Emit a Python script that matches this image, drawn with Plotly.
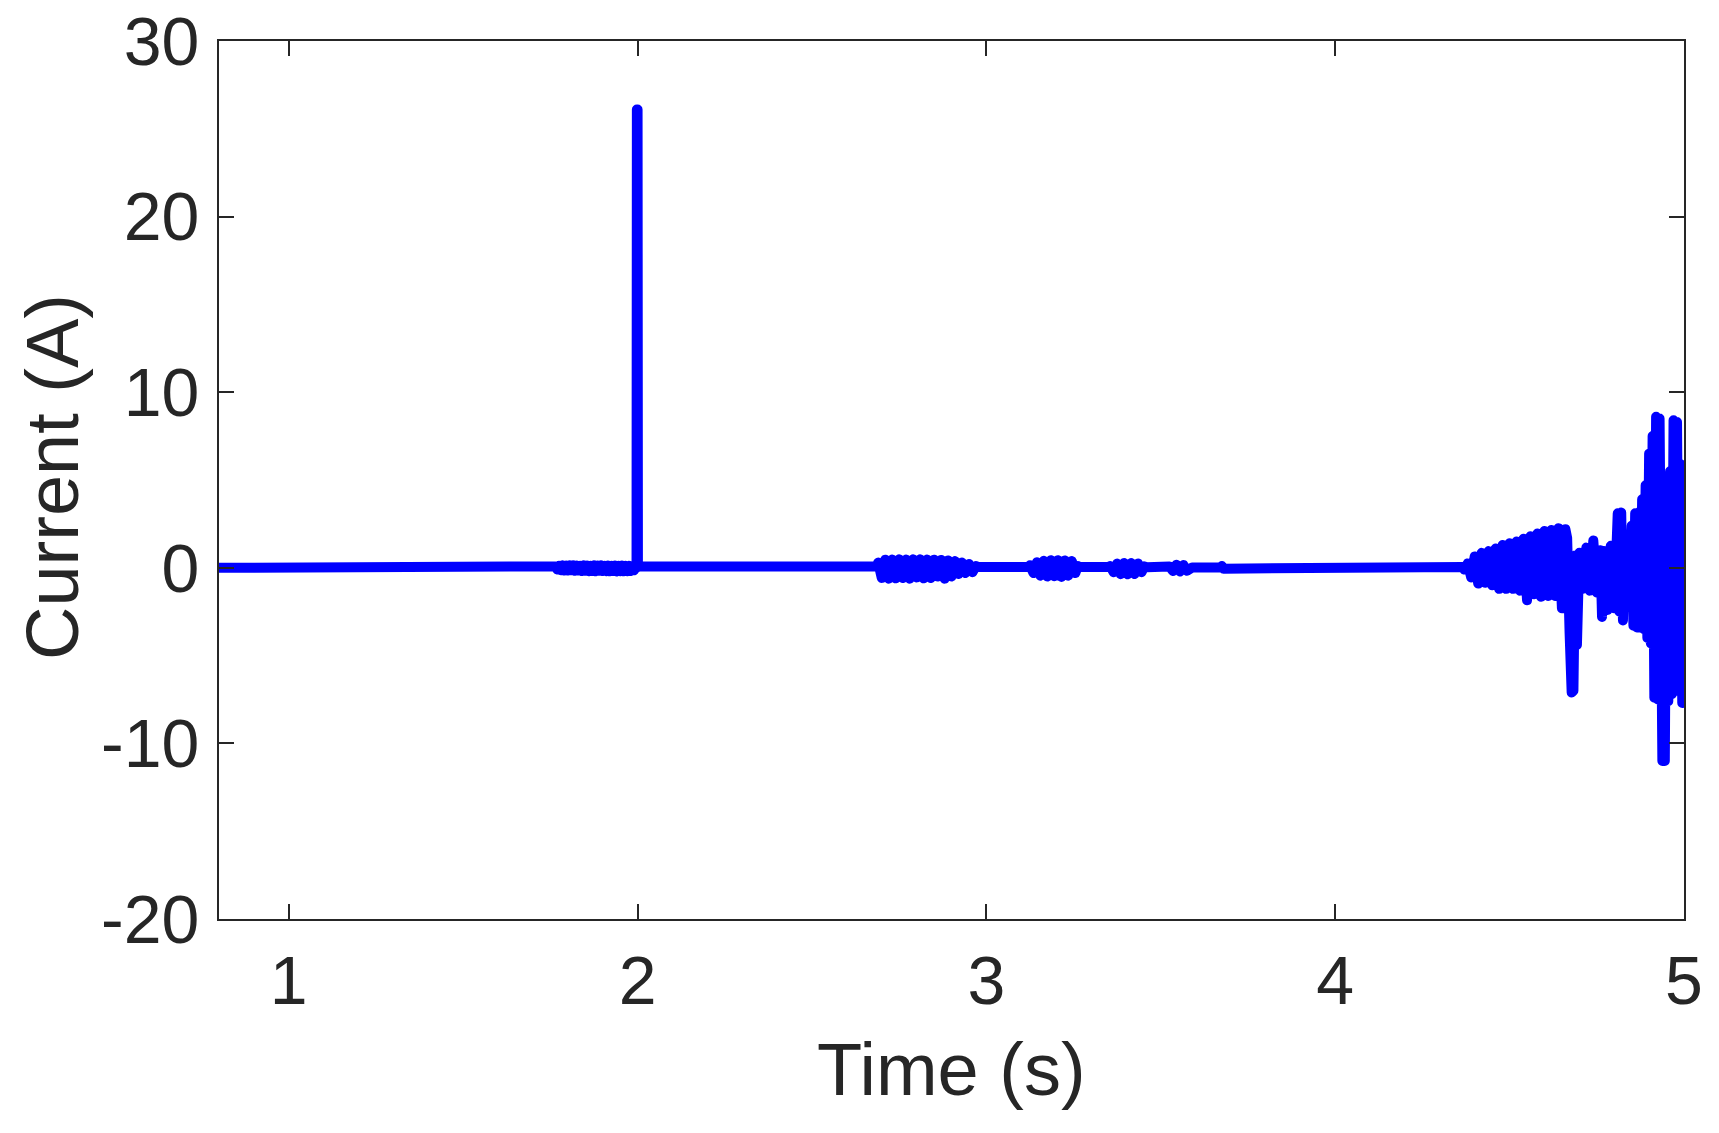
import plotly.graph_objects as go

# ---- data (time in s, current in A) ----
# quiet baseline before the spike
t_base1 = [0.80, 1.76]
i_base1 = [0.0, 0.0]

# small ripple just before t = 2 s
t_ripple = [1.765, 1.770, 1.775, 1.780, 1.785, 1.790, 1.795, 1.800, 1.805, 1.810,
            1.815, 1.820, 1.825, 1.830, 1.835, 1.840, 1.845, 1.850, 1.855, 1.860,
            1.865, 1.870, 1.875, 1.880, 1.885, 1.890, 1.895, 1.900, 1.905, 1.910,
            1.915, 1.920, 1.925, 1.930, 1.935, 1.940, 1.945, 1.950, 1.955, 1.960,
            1.965, 1.970, 1.975, 1.980, 1.985, 1.990, 1.994]
i_ripple = [0.08, -0.10, 0.12, -0.14, 0.14, -0.15, 0.13, -0.16, 0.14, -0.14,
            0.15, -0.17, 0.13, -0.16, 0.12, -0.18, 0.14, -0.17, 0.13, -0.19,
            0.12, -0.18, 0.14, -0.20, 0.13, -0.17, 0.14, -0.18, 0.12, -0.19,
            0.13, -0.20, 0.12, -0.18, 0.13, -0.21, 0.12, -0.19, 0.13, -0.20,
            0.12, -0.19, 0.11, -0.18, 0.10, -0.14, 0.05]

# inrush spike at t = 2 s
t_spike = [1.997, 1.998, 2.000, 2.001]
i_spike = [0.0, 26.1, 26.1, 0.07]

# baseline after the spike
t_base2 = [2.01, 2.685]
i_base2 = [0.07, 0.07]

# burst around 2.7 - 2.97 s
t_b1 = [2.690, 2.700, 2.710, 2.720, 2.730, 2.740, 2.750, 2.760, 2.770, 2.780,
        2.790, 2.800, 2.810, 2.820, 2.830, 2.840, 2.850, 2.860, 2.870, 2.880,
        2.890, 2.900, 2.910, 2.920, 2.930, 2.940, 2.950, 2.960, 2.970]
i_b1 = [0.30, -0.58, 0.46, -0.62, 0.47, -0.60, 0.48, -0.58, 0.47, -0.62,
        0.48, -0.55, 0.48, -0.60, 0.47, -0.58, 0.46, -0.50, 0.45, -0.62,
        0.42, -0.50, 0.38, -0.35, 0.30, -0.30, 0.22, -0.25, 0.10]

t_base3 = [2.975, 3.120]
i_base3 = [0.05, 0.05]

# burst around 3.12 - 3.26 s
t_b2 = [3.125, 3.135, 3.145, 3.155, 3.165, 3.175, 3.185, 3.195, 3.205, 3.215,
        3.225, 3.235, 3.245, 3.255, 3.262]
i_b2 = [0.15, -0.30, 0.32, -0.45, 0.40, -0.50, 0.43, -0.48, 0.43, -0.52,
        0.42, -0.45, 0.38, -0.30, 0.10]

t_base4 = [3.268, 3.350]
i_base4 = [0.04, 0.04]

# burst around 3.35 - 3.455 s
t_b3 = [3.355, 3.365, 3.375, 3.385, 3.395, 3.405, 3.415, 3.425, 3.435, 3.445, 3.453]
i_b3 = [0.10, -0.25, 0.24, -0.36, 0.27, -0.37, 0.27, -0.35, 0.24, -0.25, 0.08]

t_base5 = [3.46, 3.52]
i_base5 = [0.03, 0.03]

# burst around 3.52 - 3.59 s
t_b4 = [3.525, 3.535, 3.545, 3.555, 3.565, 3.575, 3.585]
i_b4 = [0.08, -0.18, 0.17, -0.21, 0.16, -0.17, 0.05]

t_base6 = [3.59, 3.670, 3.675, 3.680, 4.360]
i_base6 = [0.02, 0.02, 0.10, -0.05, 0.0]

# growing oscillation towards t = 5 s
t_end = [4.365, 4.370, 4.380, 4.390, 4.400, 4.410, 4.420, 4.430, 4.440, 4.450,
         4.460, 4.470, 4.480, 4.490, 4.500, 4.510, 4.520, 4.530, 4.540, 4.550,
         4.560, 4.570, 4.580, 4.590, 4.600, 4.610, 4.620, 4.630, 4.640, 4.650,
         4.660, 4.665, 4.672, 4.678, 4.683, 4.688, 4.693, 4.700, 4.710, 4.720,
         4.730, 4.740, 4.750, 4.760, 4.765, 4.770, 4.780, 4.790, 4.800, 4.810,
         4.815, 4.820, 4.825, 4.830, 4.840, 4.850, 4.855, 4.860, 4.865, 4.870,
         4.875, 4.880, 4.885, 4.890, 4.895, 4.900, 4.905, 4.910, 4.915, 4.920,
         4.925, 4.930, 4.935, 4.938, 4.945, 4.950, 4.955, 4.960, 4.965, 4.970,
         4.975, 4.980, 4.985, 4.990, 4.995, 4.999]
i_end = [0.05, -0.10, 0.25, -0.55, 0.65, -0.90, 0.85, -0.85, 0.95, -1.00,
         1.10, -1.20, 1.30, -1.20, 1.40, -1.20, 1.50, -1.30, 1.65, -1.85,
         1.80, -1.50, 1.95, -1.65, 2.10, -1.60, 2.15, -1.60, 2.25, -2.30,
         2.20, 1.70, -3.70, -7.10, -7.00, 0.70, -4.40, 0.85, -1.20, 1.15,
         -1.30, 1.55, -1.40, 1.00, -2.80, 0.95, -2.40, 1.25, -2.30, 3.10,
         -2.50, 3.15, -3.00, 1.70, -2.20, 2.40, -3.30, 3.10, -3.40, 3.15,
         -3.40, 3.90, -3.50, 4.70, -4.00, 6.50, -4.30, 7.50, -7.40, 8.60,
         -7.50, 8.50, -7.50, -11.00, -11.00, 5.20, -7.60, 5.50, -7.20, 8.40,
         -7.00, 8.30, -5.90, 5.90, -7.70, 2.10]

segments_t = [t_base1, t_ripple, t_spike, t_base2, t_b1, t_base3, t_b2, t_base4,
              t_b3, t_base5, t_b4, t_base6, t_end]
segments_i = [i_base1, i_ripple, i_spike, i_base2, i_b1, i_base3, i_b2, i_base4,
              i_b3, i_base5, i_b4, i_base6, i_end]

time = [v for seg in segments_t for v in seg]
current = [v for seg in segments_i for v in seg]

x_ticks = [1, 2, 3, 4, 5]
y_ticks = [-20, -10, 0, 10, 20, 30]
y_tick_text = ["-20", "-10", "0", "10", "20", "30"]
x_title = "Time (s)"
y_title = "Current (A)"

AX = "#262626"
FONT = "Arial, Liberation Sans, Helvetica, sans-serif"

fig = go.Figure()
fig.add_trace(go.Scatter(
    x=time, y=current, mode="lines",
    line=dict(color="#0000ff", width=10),
    hoverinfo="skip", showlegend=False,
))

fig.update_layout(
    width=1719, height=1133,
    margin=dict(l=219, r=35, t=41, b=214, pad=0),
    paper_bgcolor="white", plot_bgcolor="white",
    font=dict(family=FONT, color=AX, size=68),
)
fig.update_xaxes(
    range=[0.8, 5.0], tickvals=x_ticks, ticktext=[str(v) for v in x_ticks],
    ticks="inside", ticklen=15, tickwidth=1.5, tickcolor=AX,
    showline=True, linecolor=AX, linewidth=2, mirror="ticks",
    showgrid=False, zeroline=False, automargin=False,
    tickfont=dict(size=68, color=AX, family=FONT),
    ticklabelstandoff=1,
)
fig.update_yaxes(
    range=[-20, 30], tickvals=y_ticks, ticktext=y_tick_text,
    ticks="inside", ticklen=15, tickwidth=1.5, tickcolor=AX,
    showline=True, linecolor=AX, linewidth=2, mirror="ticks",
    showgrid=False, zeroline=False, automargin=False,
    tickfont=dict(size=68, color=AX, family=FONT),
    ticklabelstandoff=4,
)

# axis titles
fig.add_annotation(text=x_title, xref="paper", yref="paper", x=0.5, y=0,
                   xanchor="center", yanchor="middle", yshift=-150,
                   showarrow=False, font=dict(size=74, color=AX, family=FONT))
fig.add_annotation(text=y_title, xref="paper", yref="paper", x=0, y=0.5,
                   xanchor="center", yanchor="middle", xshift=-167, yshift=3,
                   textangle=-90, showarrow=False,
                   font=dict(size=74, color=AX, family=FONT))

post = """
document.body.style.margin = '0';
var gd = document.getElementById('{plot_id}');
function roundJoins() {
  gd.querySelectorAll('.scatterlayer path.js-line').forEach(function (p) {
    p.style.strokeLinejoin = 'round';
    p.style.strokeLinecap = 'round';
  });
}
roundJoins();
gd.on('plotly_afterplot', roundJoins);
"""

fig.write_html("out.html", post_script=post, config={"displayModeBar": False})
